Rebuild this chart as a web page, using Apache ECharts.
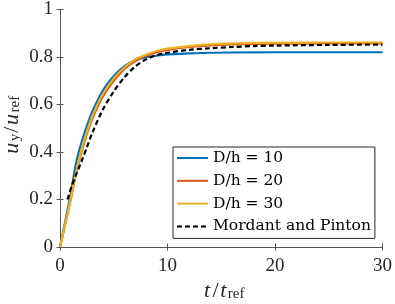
<!DOCTYPE html>
<html>
<head>
<meta charset="utf-8">
<script src="https://cdn.jsdelivr.net/npm/echarts@6/dist/echarts.min.js"></script>
<style>
html,body{margin:0;padding:0;background:#fff;}
#c{width:395px;height:304px;}
</style>
</head>
<body>
<div id="c"></div>
<script>
// ---- data ----
const tBlue   = [0, 0.5, 1, 1.5, 2, 2.5, 3, 4, 5, 6, 7, 8, 9, 10, 12, 14, 16, 20, 25, 30];
const vBlue   = [0, 0.11, 0.225, 0.355, 0.44, 0.51, 0.57, 0.66, 0.72, 0.762, 0.786, 0.799, 0.806, 0.811, 0.815, 0.818, 0.819, 0.82, 0.82, 0.82];
const tOrange = [0, 0.5, 1, 1.5, 2, 2.5, 3, 4, 5, 6, 7, 8, 9, 10, 12, 14, 16, 18, 20, 25, 30];
const vOrange = [0, 0.10, 0.20, 0.31, 0.40, 0.475, 0.54, 0.635, 0.70, 0.75, 0.783, 0.805, 0.82, 0.83, 0.842, 0.849, 0.853, 0.855, 0.856, 0.857, 0.857];
const tYellow = [0, 0.5, 1, 1.5, 2, 2.5, 3, 4, 5, 6, 7, 8, 9, 10, 12, 14, 16, 18, 20, 25, 30];
const vYellow = [0, 0.10, 0.205, 0.315, 0.41, 0.485, 0.55, 0.645, 0.71, 0.757, 0.79, 0.81, 0.825, 0.835, 0.846, 0.853, 0.857, 0.859, 0.86, 0.861, 0.861];
const tMP     = [0.7, 1, 1.5, 2, 2.5, 3, 4, 5, 6, 7, 8, 9, 10, 12, 14, 16, 18, 20, 25, 30];
const vMP     = [0.2, 0.245, 0.305, 0.36, 0.42, 0.48, 0.58, 0.655, 0.715, 0.76, 0.79, 0.808, 0.818, 0.83, 0.837, 0.842, 0.846, 0.848, 0.851, 0.852];
const seriesNames = ['D/h = 10', 'D/h = 20', 'D/h = 30', 'Mordant and Pinton'];
const xTicks = [0, 10, 20, 30];
const yTicks = [0, 0.2, 0.4, 0.6, 0.8, 1];

const pairs = (t, v) => t.map((x, i) => [x, v[i]]);
const FONT = 'Liberation Serif';
const LFONT = 'DejaVu Serif';
const axisColor = '#555555';
const textColor = '#262626';

const chart = echarts.init(document.getElementById('c'), null, {renderer: 'canvas'});
const tickCommon = {show: true, inside: true, length: 3.5, lineStyle: {color: axisColor, width: 1}};
const lineAxis = {show: true, lineStyle: {color: axisColor, width: 1}};

const titleRich = {
  i: {fontFamily: FONT, fontStyle: 'italic', fontSize: 22, lineHeight: 22, fill: textColor, padding: [0, 1.5, 0, 0.5]},
  n: {fontFamily: FONT, fontSize: 22, lineHeight: 22, fill: textColor, padding: [0, 1, 0, 1]},
  s: {fontFamily: FONT, fontSize: 15, lineHeight: 15, verticalAlign: 'bottom', fill: textColor, padding: [5, 0, 0, 0]}
};

const option = {
  animation: false,
  backgroundColor: '#fff',
  grid: {left: 60, top: 9, width: 324, height: 238, show: false},
  xAxis: [
    {type: 'value', min: xTicks[0], max: xTicks[xTicks.length - 1], interval: 10, position: 'bottom',
     axisLine: lineAxis, axisTick: tickCommon, splitLine: {show: false},
     axisLabel: {color: textColor, fontFamily: FONT, fontSize: 19, margin: 10}},
    {type: 'value', min: xTicks[0], max: xTicks[xTicks.length - 1], interval: 10, position: 'top',
     axisLine: lineAxis, axisTick: tickCommon, splitLine: {show: false}, axisLabel: {show: false}}
  ],
  yAxis: [
    {type: 'value', min: yTicks[0], max: yTicks[yTicks.length - 1], interval: 0.2, position: 'left',
     axisLine: lineAxis, axisTick: tickCommon, splitLine: {show: false},
     axisLabel: {color: textColor, fontFamily: FONT, fontSize: 19, margin: 7}},
    {type: 'value', min: yTicks[0], max: yTicks[yTicks.length - 1], interval: 0.2, position: 'right',
     axisLine: lineAxis, axisTick: tickCommon, splitLine: {show: false}, axisLabel: {show: false}}
  ],
  legend: {
    orient: 'vertical', left: 173, top: 147,
    data: seriesNames,
    backgroundColor: '#fff', borderColor: '#262626', borderWidth: 1,
    padding: [2, 4, 3, 3], itemGap: 4.8, itemWidth: 31, itemHeight: 14,
    itemStyle: {opacity: 0},
    textStyle: {fontFamily: LFONT, fontSize: 15.5, color: '#000', lineHeight: 18}
  },
  series: [
    {name: seriesNames[0], type: 'line', data: pairs(tBlue, vBlue), smooth: 0.3, symbol: 'none',
     lineStyle: {color: '#0072BD', width: 2.2}, itemStyle: {color: '#0072BD'}},
    {name: seriesNames[1], type: 'line', data: pairs(tOrange, vOrange), smooth: 0.3, symbol: 'none',
     lineStyle: {color: '#D95319', width: 2.2}, itemStyle: {color: '#D95319'}},
    {name: seriesNames[2], type: 'line', data: pairs(tYellow, vYellow), smooth: 0.3, symbol: 'none',
     lineStyle: {color: '#EDB120', width: 2.2}, itemStyle: {color: '#EDB120'}},
    {name: seriesNames[3], type: 'line', data: pairs(tMP, vMP), smooth: 0.3, symbol: 'none',
     lineStyle: {color: '#000', width: 2.2, type: [5, 3]}, itemStyle: {color: '#000'}}
  ],
  graphic: [
    {type: 'text', x: 224, y: 291, silent: true,
     style: {text: '{i|t}{n|/}{i|t}{s|ref}', x: 0, y: 0, align: 'center', verticalAlign: 'middle', rich: titleRich}},
    {type: 'text', x: 12, y: 125, rotation: Math.PI / 2, silent: true,
     style: {text: '{i|u}{s|y}{n|/}{i|u}{s|ref}', x: 0, y: 0, align: 'center', verticalAlign: 'middle', rich: titleRich}}
  ]
};
chart.setOption(option);
</script>
</body>
</html>
